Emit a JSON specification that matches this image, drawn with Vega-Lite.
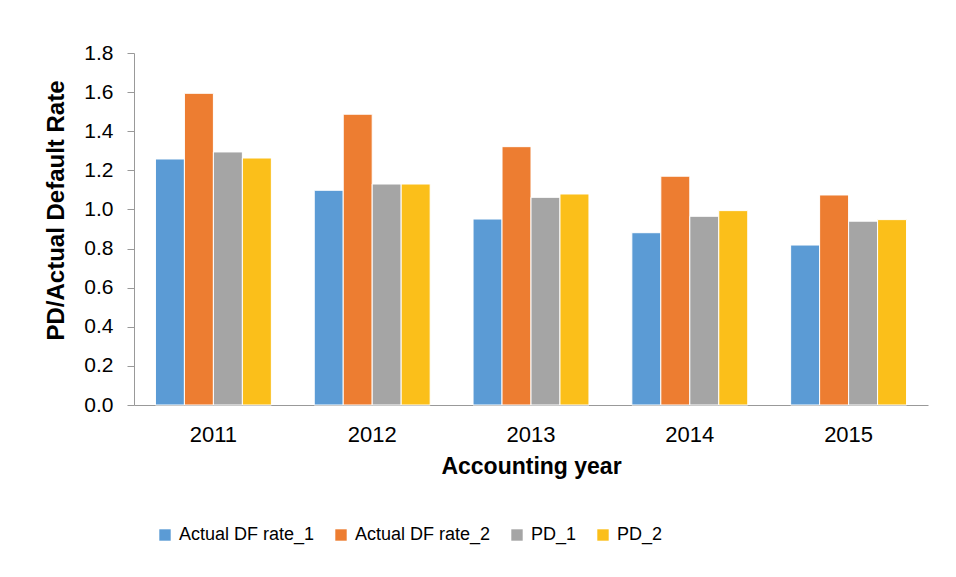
{
  "$schema": "https://vega.github.io/schema/vega-lite/v6.json",
  "width": 794,
  "height": 352,
  "autosize": {"type": "none"},
  "padding": {"left": 134, "top": 53, "right": 28, "bottom": 172},
  "background": "white",
  "data": {
    "values": [
      {"year": "2011", "series": "Actual DF rate_1", "value": 1.258},
      {"year": "2011", "series": "Actual DF rate_2", "value": 1.594},
      {"year": "2011", "series": "PD_1", "value": 1.294},
      {"year": "2011", "series": "PD_2", "value": 1.263},
      {"year": "2012", "series": "Actual DF rate_1", "value": 1.098},
      {"year": "2012", "series": "Actual DF rate_2", "value": 1.487},
      {"year": "2012", "series": "PD_1", "value": 1.130},
      {"year": "2012", "series": "PD_2", "value": 1.130},
      {"year": "2013", "series": "Actual DF rate_1", "value": 0.951},
      {"year": "2013", "series": "Actual DF rate_2", "value": 1.321},
      {"year": "2013", "series": "PD_1", "value": 1.062},
      {"year": "2013", "series": "PD_2", "value": 1.079},
      {"year": "2014", "series": "Actual DF rate_1", "value": 0.881},
      {"year": "2014", "series": "Actual DF rate_2", "value": 1.170},
      {"year": "2014", "series": "PD_1", "value": 0.965},
      {"year": "2014", "series": "PD_2", "value": 0.994},
      {"year": "2015", "series": "Actual DF rate_1", "value": 0.818},
      {"year": "2015", "series": "Actual DF rate_2", "value": 1.074},
      {"year": "2015", "series": "PD_1", "value": 0.940},
      {"year": "2015", "series": "PD_2", "value": 0.948}
    ]
  },
  "mark": {"type": "bar", "stroke": "white", "strokeWidth": 1},
  "encoding": {
    "x": {
      "field": "year",
      "type": "nominal",
      "scale": {"paddingInner": 0.27, "paddingOuter": 0.135},
      "axis": {
        "title": "Accounting year",
        "titleFont": "Liberation Sans",
        "titleFontSize": 23,
        "titleFontWeight": "bold",
        "titleColor": "black",
        "titlePadding": 10,
        "labelFont": "Liberation Sans",
        "labelFontSize": 22,
        "labelColor": "black",
        "labelAngle": 0,
        "labelPadding": 19,
        "ticks": false,
        "domainColor": "#999999",
        "domainWidth": 1,
        "grid": false
      }
    },
    "xOffset": {
      "field": "series",
      "type": "nominal",
      "sort": ["Actual DF rate_1", "Actual DF rate_2", "PD_1", "PD_2"],
      "scale": {"paddingInner": 0, "paddingOuter": 0}
    },
    "y": {
      "field": "value",
      "type": "quantitative",
      "scale": {"domain": [0, 1.8], "nice": false},
      "axis": {
        "title": "PD/Actual Default Rate",
        "titleFont": "Liberation Sans",
        "titleFontSize": 24,
        "titleFontWeight": "bold",
        "titleColor": "black",
        "titlePadding": 15,
        "titleY": 157,
        "labelFont": "Liberation Sans",
        "labelFontSize": 21,
        "labelColor": "black",
        "labelPadding": 14,
        "values": [0, 0.2, 0.4, 0.6, 0.8, 1.0, 1.2, 1.4, 1.6, 1.8],
        "format": ".1f",
        "tickColor": "#999999",
        "tickSize": 7,
        "domainColor": "#999999",
        "grid": false
      }
    },
    "color": {
      "field": "series",
      "type": "nominal",
      "sort": ["Actual DF rate_1", "Actual DF rate_2", "PD_1", "PD_2"],
      "scale": {
        "domain": ["Actual DF rate_1", "Actual DF rate_2", "PD_1", "PD_2"],
        "range": ["#5B9BD5", "#ED7D31", "#A5A5A5", "#FBBF1A"]
      },
      "legend": {
        "title": null,
        "orient": "none",
        "direction": "horizontal",
        "legendX": 22,
        "legendY": 473,
        "symbolType": "square",
        "symbolSize": 130,
        "symbolStrokeWidth": 0,
        "labelFont": "Liberation Sans",
        "labelFontSize": 18,
        "labelColor": "black",
        "labelOffset": 5,
        "columnPadding": 17
      }
    }
  },
  "config": {
    "view": {"stroke": null}
  }
}
